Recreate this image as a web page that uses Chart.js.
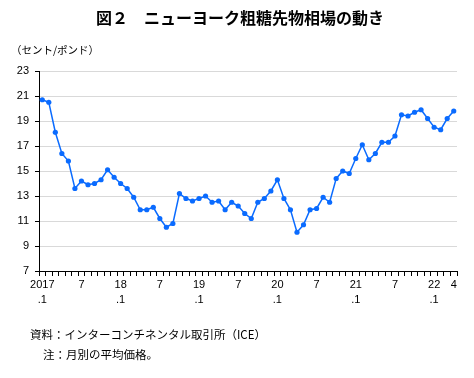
<!DOCTYPE html>
<html>
<head>
<meta charset="utf-8">
<script src="https://cdn.jsdelivr.net/npm/chart.js@4/dist/chart.umd.min.js"></script>
<style>
  html, body { margin: 0; padding: 0; background: #fff; }
  #wrap { position: relative; width: 474px; height: 378px; overflow: hidden; }
  canvas { position: absolute; left: 0; top: 0; }
  .t { position: absolute; white-space: nowrap; color: #000; font-family: "Noto Sans CJK JP", sans-serif; }
  #title { left: 0; width: 480px; text-align: center; top: 6px; font-size: 16px; font-weight: bold; line-height: 22px; }
  #unit { left: 11px; top: 42px; font-size: 10.5px; line-height: 16px; }
  #src { left: 30px; top: 326px; font-size: 11.5px; line-height: 16px; }
  #note { left: 43px; top: 346px; font-size: 11.5px; line-height: 16px; }
</style>
</head>
<body>
<div id="wrap">
  <canvas id="c" width="474" height="378"></canvas>
  <div class="t" id="title">図２　ニューヨーク粗糖先物相場の動き</div>
  <div class="t" id="unit">（セント/ポンド）</div>
  <div class="t" id="src">資料：インターコンチネンタル取引所（ICE）</div>
  <div class="t" id="note">注：月別の平均価格。</div>
</div>
<script>
const months = [
  '2017-01','2017-02','2017-03','2017-04','2017-05','2017-06','2017-07','2017-08','2017-09','2017-10','2017-11','2017-12',
  '2018-01','2018-02','2018-03','2018-04','2018-05','2018-06','2018-07','2018-08','2018-09','2018-10','2018-11','2018-12',
  '2019-01','2019-02','2019-03','2019-04','2019-05','2019-06','2019-07','2019-08','2019-09','2019-10','2019-11','2019-12',
  '2020-01','2020-02','2020-03','2020-04','2020-05','2020-06','2020-07','2020-08','2020-09','2020-10','2020-11','2020-12',
  '2021-01','2021-02','2021-03','2021-04','2021-05','2021-06','2021-07','2021-08','2021-09','2021-10','2021-11','2021-12',
  '2022-01','2022-02','2022-03','2022-04'
];

const sugarPrice = [
  20.7, 20.5, 18.1, 16.4, 15.8, 13.6, 14.2, 13.9, 14.0, 14.3, 15.1, 14.5,
  14.0, 13.6, 12.9, 11.9, 11.9, 12.1, 11.2, 10.5, 10.8, 13.2, 12.8, 12.6,
  12.8, 13.0, 12.5, 12.6, 11.9, 12.5, 12.2, 11.6, 11.2, 12.5, 12.8, 13.4,
  14.3, 12.8, 11.9, 10.1, 10.7, 11.9, 12.0, 12.9, 12.5, 14.4, 15.0, 14.8,
  16.0, 17.1, 15.9, 16.4, 17.3, 17.3, 17.8, 19.5, 19.4, 19.7, 19.9, 19.2,
  18.5, 18.3, 19.2, 19.8
];

const xTickLabels = {
  '2017-01': ['2017', '.1'],
  '2017-07': '7',
  '2018-01': ['18', '.1'],
  '2018-07': '7',
  '2019-01': ['19', '.1'],
  '2019-07': '7',
  '2020-01': ['20', '.1'],
  '2020-07': '7',
  '2021-01': ['21', '.1'],
  '2021-07': '7',
  '2022-01': ['22', '.1'],
  '2022-04': '4'
};

const yMin = 7, yMax = 23, yStep = 2;

const lineColor = '#0a6bff';
const tickFont = { family: '"Liberation Sans", Arial, sans-serif', size: 11, lineHeight: 1.35 };

new Chart(document.getElementById('c'), {
  type: 'line',
  data: {
    labels: months,
    datasets: [{
      data: sugarPrice,
      borderColor: lineColor,
      backgroundColor: lineColor,
      borderWidth: 1.5,
      pointRadius: 2.6,
      pointBorderWidth: 0,
      pointBackgroundColor: lineColor,
      tension: 0,
      fill: false
    }]
  },
  options: {
    responsive: false,
    animation: false,
    devicePixelRatio: 1,
    events: [],
    layout: { padding: { top: 71, right: 17, bottom: 67, left: 0 } },
    plugins: { legend: { display: false }, tooltip: { enabled: false }, title: { display: false } },
    scales: {
      x: {
        type: 'category',
        offset: true,
        afterFit: s => { s.height = 40; },
        border: { display: true, color: '#000', width: 1 },
        grid: { display: true, drawOnChartArea: false, drawTicks: true, tickLength: 5, tickColor: '#000', offset: true, lineWidth: 1 },
        ticks: {
          autoSkip: false,
          maxRotation: 0,
          minRotation: 0,
          padding: 2,
          color: '#000',
          font: tickFont,
          callback: function (value) {
            const key = this.getLabelForValue(value);
            return xTickLabels[key] !== undefined ? xTickLabels[key] : '';
          }
        }
      },
      y: {
        min: yMin,
        max: yMax,
        afterFit: s => { s.width = 39; },
        border: { display: true, color: '#000', width: 1 },
        grid: { color: '#d9d9d9', lineWidth: 1, drawTicks: true, tickLength: 4, tickColor: '#000' },
        ticks: { stepSize: yStep, padding: 6, color: '#000', font: tickFont }
      }
    }
  }
});
</script>
</body>
</html>
